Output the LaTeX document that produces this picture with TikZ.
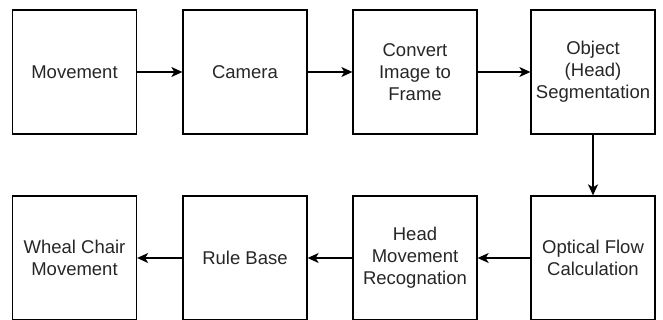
\documentclass[tikz,border=0pt]{standalone}
\usepackage{fontspec}
\setmainfont{Liberation Sans}
\usetikzlibrary{arrows.meta}
\begin{document}
\begin{tikzpicture}[x=1pt,y=-1pt,
  stepbox/.style={draw=black, line width=1.3pt, minimum width=124pt, minimum height=124pt,
    inner sep=0pt, align=center, font=\fontsize{18.5}{22}\selectfont, text=black!85},
  flow/.style={draw=black, line width=1.3pt, -{Stealth[length=11pt,width=10pt,inset=3pt]}}]
  \useasboundingbox (0,0) rectangle (663,320);
  % top row
  \node[stepbox] (mov) at (74.5,72) {Movement};
  \node[stepbox] (cam) at (245,72) {Camera};
  \node[stepbox] (conv) at (415,72) {Convert\\Image to\\Frame};
  \node[stepbox] (seg) at (593,72) {Object\\(Head)\\Segmentation};
  % bottom row
  \node[stepbox] (whl) at (74.5,258) {Wheal Chair\\Movement};
  \node[stepbox] (rule) at (245,258) {Rule Base};
  \node[stepbox] (head) at (415,258) {Head\\Movement\\Recognation};
  \node[stepbox] (opt) at (593,258) {Optical Flow\\Calculation};
  % connectors
  \draw[flow] (mov) -- (cam);
  \draw[flow] (cam) -- (conv);
  \draw[flow] (conv) -- (seg);
  \draw[flow] (seg) -- (opt);
  \draw[flow] (opt) -- (head);
  \draw[flow] (head) -- (rule);
  \draw[flow] (rule) -- (whl);
\end{tikzpicture}
\end{document}
